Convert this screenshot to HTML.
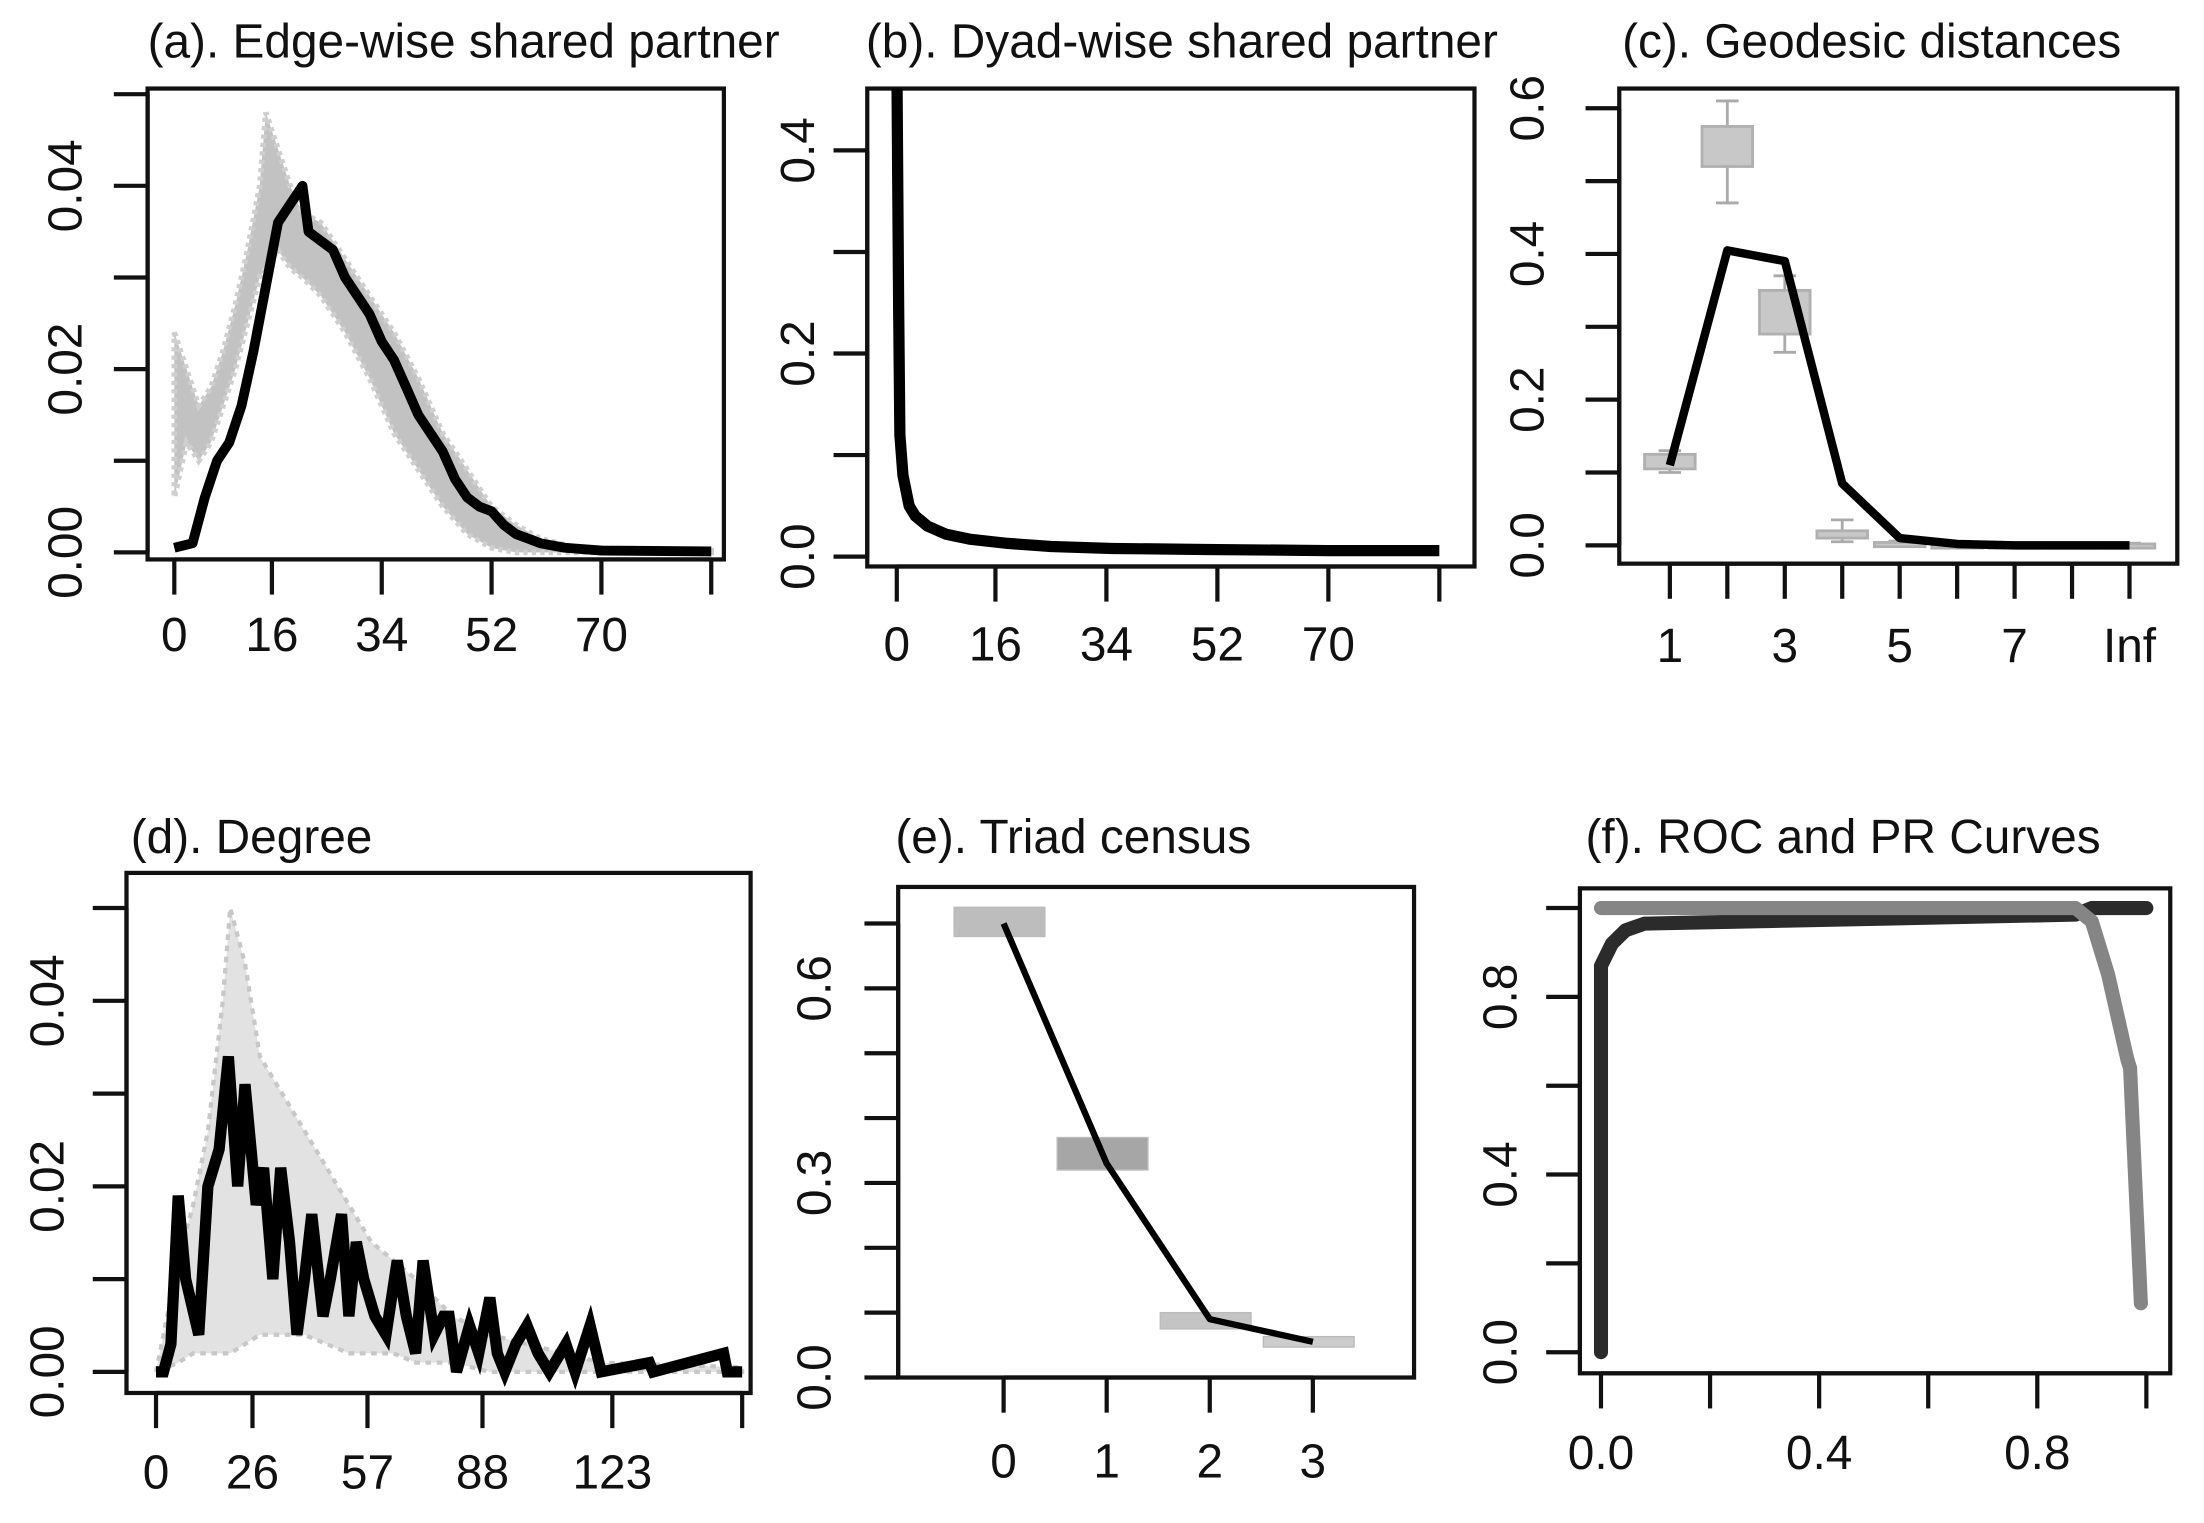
<!DOCTYPE html>
<html><head><meta charset="utf-8"><style>
html,body{margin:0;padding:0;background:#fff;}
svg{display:block;font-family:"Liberation Sans",Arial,sans-serif;}
</style></head><body>
<svg id="fig" width="2204" height="1523" viewBox="0 0 1568 1083.5" preserveAspectRatio="none" xmlns="http://www.w3.org/2000/svg"></svg>
<script>
// ---- Panel (a) data ----
const aX = [0,3,5,7,9,11,13,15,17,19,21,22,24,26,28,30,32,34,36,38,40,42,44,46,48,50,52,54,56,58,60,64,70,88];
const aMean = [0.0005,0.001,0.006,0.010,0.012,0.016,0.022,0.029,0.036,0.038,0.040,0.035,0.034,0.033,0.030,0.028,0.026,0.023,0.021,0.018,0.015,0.013,0.011,0.008,0.006,0.005,0.0045,0.003,0.002,0.0015,0.001,0.0005,0.0002,0.0001];
const aBandX = [0,2,4,6,8,10,12,14,15,17,19,21,24,28,32,36,40,44,48,52,56,60,66,88];
const aHi = [0.024,0.020,0.016,0.018,0.022,0.027,0.033,0.040,0.048,0.044,0.040,0.037,0.036,0.032,0.028,0.024,0.019,0.013,0.009,0.005,0.003,0.0015,0.0005,0.0002];
const aLo = [0.006,0.012,0.010,0.012,0.016,0.020,0.025,0.030,0.031,0.033,0.031,0.030,0.028,0.024,0.019,0.013,0.009,0.005,0.002,0.0005,0,0,0,0];
const aXTicks = [0,16,34,52,70,88];
const aXLabels = ["0","16","34","52","70",""];
const aYTicks = [0,0.01,0.02,0.03,0.04,0.05];
const aYLabels = ["0.00","","0.02","","0.04",""];
// ---- Panel (b) data ----
const bX = [0,0.3,0.5,1,2,3,5,8,12,18,25,35,50,70,88];
const bMean = [0.5,0.25,0.12,0.08,0.05,0.04,0.03,0.022,0.017,0.013,0.010,0.008,0.007,0.006,0.006];
const bXTicks = [0,16,34,52,70,88];
const bXLabels = ["0","16","34","52","70",""];
const bYTicks = [0,0.1,0.2,0.3,0.4];
const bYLabels = ["0.0","","0.2","","0.4"];
// ---- Panel (c) data ----
const cX = [1,2,3,4,5,6,7,8,9];
const cMean = [0.11,0.405,0.39,0.085,0.01,0.002,0,0,0];
const cBoxLo = [0.105,0.52,0.29,0.01,0.0,0,0,0,0];
const cBoxHi = [0.125,0.575,0.35,0.02,0.004,0.002,0.002,0.002,0.002];
const cWhLo = [0.10,0.47,0.265,0.005,0,0,0,0,0];
const cWhHi = [0.13,0.61,0.37,0.035,0.006,0.003,0.003,0.003,0.003];
const cXTicks = [1,2,3,4,5,6,7,8,9];
const cXLabels = ["1","","3","","5","","7","","Inf"];
const cYTicks = [0,0.1,0.2,0.3,0.4,0.5,0.6];
const cYLabels = ["0.0","","0.2","","0.4","","0.6"];
// ---- Panel (d) data ----
const dX = [0,2,4,6,8,11.5,14,17,19.5,22,24,27,29,31.5,33.6,36,38,40,42,45,47,50,52,54,56,59,62,65,67.5,70,72,75,77.5,79,81,84.5,87,90,92,94,97,100,103,106,110.5,113,117,120,133,134,153,154,158];
const dMean = [0,0,0.003,0.019,0.01,0.004,0.02,0.024,0.034,0.02,0.031,0.018,0.022,0.01,0.022,0.014,0.004,0.01,0.017,0.006,0.01,0.017,0.006,0.014,0.01,0.006,0.004,0.012,0.006,0.002,0.012,0.004,0.006,0.006,0,0.005,0.002,0.008,0.002,0,0.003,0.005,0.002,0,0.003,0,0.005,0,0.001,0,0.002,0,0];
const dBandX = [0,6,10,14,18,20,24,28,34,40,46,52,58,64,70,80,90,100,120,158];
const dHi = [0,0.012,0.018,0.026,0.04,0.05,0.044,0.034,0.030,0.026,0.022,0.018,0.014,0.012,0.010,0.006,0.004,0.003,0.001,0.0005];
const dLo = [0,0.001,0.002,0.002,0.002,0.002,0.003,0.004,0.004,0.004,0.003,0.002,0.002,0.002,0.001,0.001,0,0,0,0];
const dXTicks = [0,26,57,88,123,158];
const dXLabels = ["0","26","57","88","123",""];
const dYTicks = [0,0.01,0.02,0.03,0.04,0.05];
const dYLabels = ["0.00","","0.02","","0.04",""];
// ---- Panel (e) data ----
const eX = [0,1,2,3];
const eMean = [0.70,0.33,0.09,0.055];
const eBoxLo = [0.68,0.32,0.075,0.047];
const eBoxHi = [0.725,0.37,0.10,0.063];
const eBoxFill = ["#bdbdbd","#a6a6a6","#c4c4c4","#cccccc"];
const eXTicks = [0,1,2,3];
const eXLabels = ["0","1","2","3"];
const eYTicks = [0,0.1,0.2,0.3,0.4,0.5,0.6,0.7];
const eYLabels = ["0.0","","","0.3","","","0.6",""];
// ---- Panel (f) data ----
const rocX = [0,0,0.02,0.045,0.08,0.87,0.9,1.0];
const rocY = [0,0.87,0.92,0.95,0.965,0.985,1.0,1.0];
const prX = [0,0.87,0.9,0.93,0.965,0.97,0.99];
const prY = [1,1,0.97,0.85,0.66,0.64,0.11];
const fXTicks = [0,0.2,0.4,0.6,0.8,1.0];
const fXLabels = ["0.0","","0.4","","0.8",""];
const fYTicks = [0,0.2,0.4,0.6,0.8,1.0];
const fYLabels = ["0.0","","0.4","","0.8",""];

const FS = 34;
const NS = "http://www.w3.org/2000/svg";
const svg = document.getElementById('fig');
function el(tag, attrs, parent){ const e=document.createElementNS(NS,tag); for(const k in attrs) e.setAttribute(k,attrs[k]); (parent||svg).appendChild(e); return e; }
function lin(d0,d1,r0,r1){ return v => r0+(v-d0)*(r1-r0)/(d1-d0); }

function panel(p){
  const g = el('g',{});
  
  
  const t = el('text',{x:p.titleX,y:p.titleY,'font-size':FS,fill:'#111'},g);
  t.textContent = p.title;
  
  
  const box = el('rect',{x:p.box[0],y:p.box[1],width:p.box[2]-p.box[0],height:p.box[3]-p.box[1],fill:'none',stroke:'#111','stroke-width':3},g);
  
  
  const ya = el('g',{},g);
  
  
  p.yTicks.forEach((v,i)=>{
    const y=p.sy(v);
    el('line',{x1:p.box[0]-24,x2:p.box[0],y1:y,y2:y,stroke:'#111','stroke-width':3},ya);
    if(p.yLabels[i]){
      const tx = el('text',{x:p.yLabelX,y:y,'font-size':FS,fill:'#111','text-anchor':'middle','dominant-baseline':'central',transform:`rotate(-90 ${p.yLabelX} ${y})`},ya);
      tx.textContent=p.yLabels[i];
      
      
    }
  });
  el('line',{x1:p.box[0],x2:p.box[0],y1:p.sy(p.yTicks[0]),y2:p.sy(p.yTicks[p.yTicks.length-1]),stroke:'#111','stroke-width':3},ya);
  const xa = el('g',{},g);
  
  
  p.xTicks.forEach((v,i)=>{
    const x=p.sx(v);
    el('line',{x1:x,x2:x,y1:p.box[3],y2:p.box[3]+25,stroke:'#111','stroke-width':3},xa);
    if(p.xLabels[i]){
      const tx=el('text',{x:x,y:p.xLabelY,'font-size':FS,fill:'#111','text-anchor':'middle','dominant-baseline':'central'},xa);
      tx.textContent=p.xLabels[i];
      
      
    }
  });
  el('line',{x1:p.sx(p.xTicks[0]),x2:p.sx(p.xTicks[p.xTicks.length-1]),y1:p.box[3],y2:p.box[3],stroke:'#111','stroke-width':3},xa);
  return g;
}
function pathD(xs,ys,sx,sy){ return xs.map((x,i)=>(i?'L':'M')+sx(x).toFixed(1)+' '+sy(ys[i]).toFixed(1)).join(' '); }
function bandD(xs,hi,lo,sx,sy){ let d=xs.map((x,i)=>(i?'L':'M')+sx(x)+' '+sy(hi[i])).join(' '); for(let i=xs.length-1;i>=0;i--) d+=' L'+sx(xs[i])+' '+sy(lo[i]); return d+' Z'; }

// (a)
{
  const sx=lin(0,88,124,506), sy=lin(0,0.05,393,67);
  const g=panel({name:'panel-a-edgewise',title:'(a). Edge-wise shared partner',titleX:105,titleY:41,box:[105,63,515,398],sx,sy,xTicks:aXTicks,xLabels:aXLabels,yTicks:aYTicks,yLabels:aYLabels,yLabelX:47,xLabelY:452});
  const b=el('path',{d:bandD(aBandX,aHi,aLo,sx,sy),fill:'#c2c2c2',stroke:'#cfcfcf','stroke-width':4,'stroke-dasharray':'3 3'},g);
  
  
  const l=el('path',{d:pathD(aX,aMean,sx,sy),fill:'none',stroke:'#000','stroke-width':7,'stroke-linejoin':'round'},g);
  
  
}
// (b)
{
  const sx=lin(0,88,638,1024), sy=lin(0,0.4,396,107);
  const g=panel({name:'panel-b-dyadwise',title:'(b). Dyad-wise shared partner',titleX:616,titleY:41,box:[617,63,1049,403],sx,sy,xTicks:bXTicks,xLabels:bXLabels,yTicks:bYTicks,yLabels:bYLabels,yLabelX:568,xLabelY:459});
  const clip=el('clipPath',{id:'cb'},g); el('rect',{x:617,y:63,width:432,height:340},clip);
  const l=el('path',{d:pathD(bX,bMean,sx,sy),fill:'none',stroke:'#000','stroke-width':8,'stroke-linejoin':'round','clip-path':'url(#cb)'},g);
  
  
}
// (c)
{
  const sx=lin(1,9,1188,1515), sy=lin(0,0.6,388,77);
  const g=panel({name:'panel-c-geodesic',title:'(c). Geodesic distances',titleX:1154,titleY:41,box:[1152,63,1549,401],sx,sy,xTicks:cXTicks,xLabels:cXLabels,yTicks:cYTicks,yLabels:cYLabels,yLabelX:1087,xLabelY:460});
  cX.forEach((x,i)=>{
    const cx=sx(x), w=18;
    const bg=el('g',{},g);
    
    
    el('line',{x1:cx,x2:cx,y1:sy(cWhLo[i]),y2:sy(cWhHi[i]),stroke:'#aaa','stroke-width':2},bg);
    el('line',{x1:cx-8,x2:cx+8,y1:sy(cWhLo[i]),y2:sy(cWhLo[i]),stroke:'#aaa','stroke-width':2},bg);
    el('line',{x1:cx-8,x2:cx+8,y1:sy(cWhHi[i]),y2:sy(cWhHi[i]),stroke:'#aaa','stroke-width':2},bg);
    el('rect',{x:cx-w,y:sy(cBoxHi[i]),width:2*w,height:Math.max(3,sy(cBoxLo[i])-sy(cBoxHi[i])),fill:'#c8c8c8',stroke:'#b0b0b0','stroke-width':2},bg);
  });
  const l=el('path',{d:pathD(cX,cMean,sx,sy),fill:'none',stroke:'#000','stroke-width':6,'stroke-linejoin':'round'},g);
  
  
}
// (d)
{
  const sx=lin(0,158,111,528), sy=lin(0,0.05,976,646);
  const g=panel({name:'panel-d-degree',title:'(d). Degree',titleX:93,titleY:607,box:[90,621,534,991],sx,sy,xTicks:dXTicks,xLabels:dXLabels,yTicks:dYTicks,yLabels:dYLabels,yLabelX:34,xLabelY:1048});
  const b=el('path',{d:bandD(dBandX,dHi,dLo,sx,sy),fill:'#e2e2e2',stroke:'#c8c8c8','stroke-width':3,'stroke-dasharray':'4 4'},g);
  
  
  const l=el('path',{d:pathD(dX,dMean,sx,sy),fill:'none',stroke:'#000','stroke-width':8,'stroke-linejoin':'miter'},g);
  
  
}
// (e)
{
  const sx=lin(0,3,714,934), sy=lin(0,0.7,980,657);
  const g=panel({name:'panel-e-triad',title:'(e). Triad census',titleX:637,titleY:607,box:[639,631,1006,980],sx,sy,xTicks:eXTicks,xLabels:eXLabels,yTicks:eYTicks,yLabels:eYLabels,yLabelX:580,xLabelY:1040});
  eX.forEach((x,i)=>{
    const r=el('rect',{x:sx(x-0.48),y:sy(eBoxHi[i]),width:sx(x+0.4)-sx(x-0.48),height:sy(eBoxLo[i])-sy(eBoxHi[i]),fill:eBoxFill[i],stroke:'#bbb','stroke-width':1},g);
    
    
  });
  const l=el('path',{d:pathD(eX,eMean,sx,sy),fill:'none',stroke:'#000','stroke-width':4.5,'stroke-linejoin':'round'},g);
  
  
}
// (f)
{
  const sx=lin(0,1,1139,1527), sy=lin(0,1,962,646);
  const g=panel({name:'panel-f-roc-pr',title:'(f). ROC and PR Curves',titleX:1128,titleY:607,box:[1124,632,1544,977],sx,sy,xTicks:fXTicks,xLabels:fXLabels,yTicks:fYTicks,yLabels:fYLabels,yLabelX:1068,xLabelY:1034});
  const r=el('path',{d:pathD(rocX,rocY,sx,sy),fill:'none',stroke:'#2b2b2b','stroke-width':10,'stroke-linecap':'round','stroke-linejoin':'round'},g);
  
  
  const p=el('path',{d:pathD(prX,prY,sx,sy),fill:'none',stroke:'#858585','stroke-width':10,'stroke-linecap':'round','stroke-linejoin':'round'},g);
  
  
}
</script>
</body></html>
